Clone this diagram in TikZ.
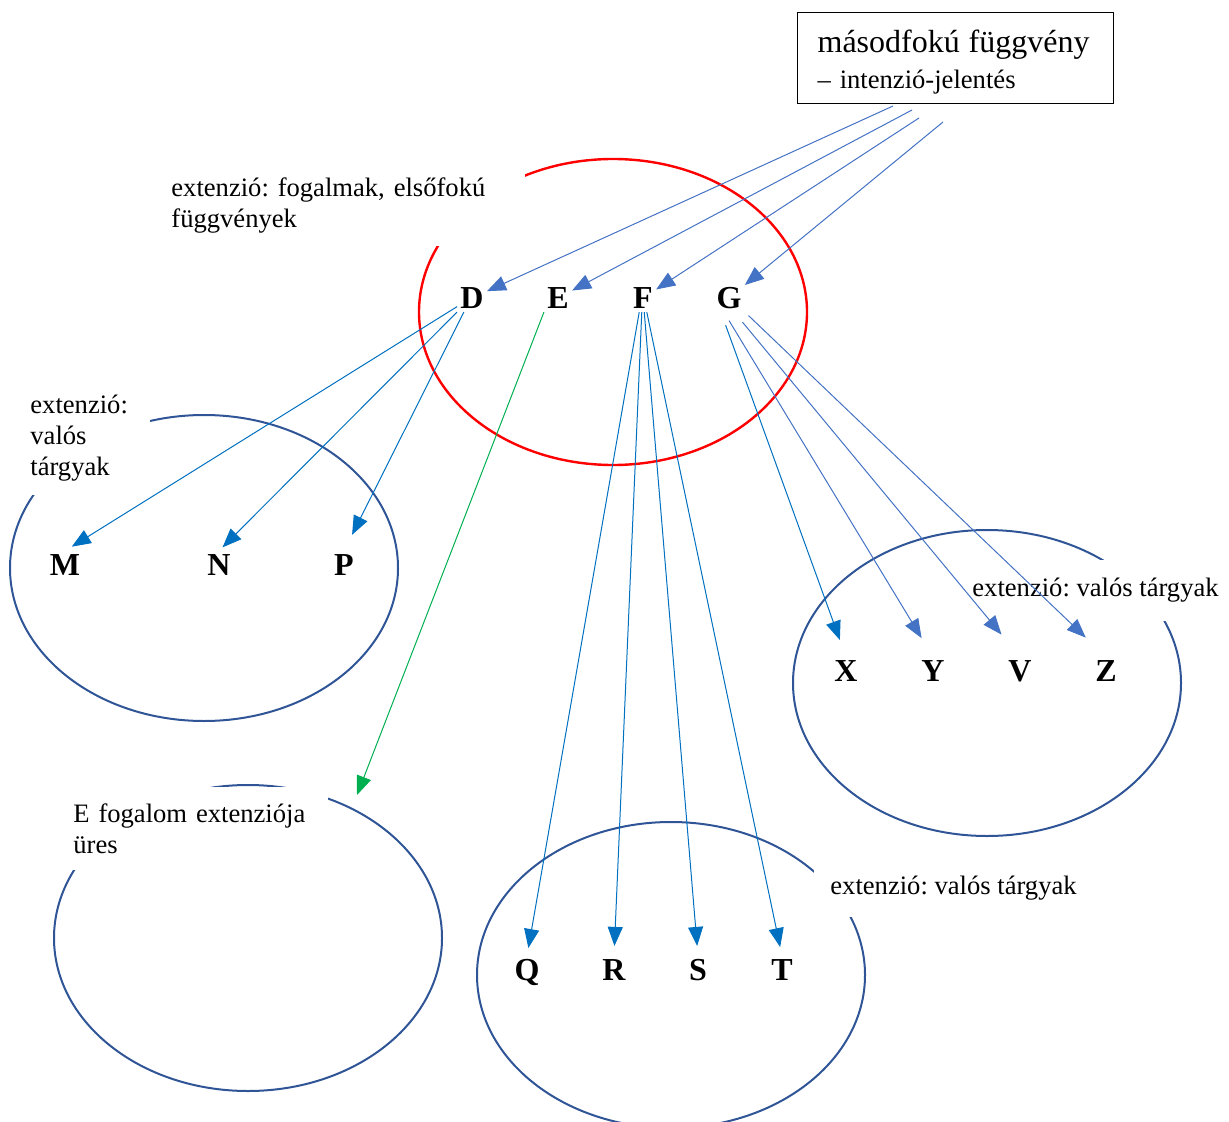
\documentclass[tikz,border=0pt]{standalone}
\usepackage{fontspec}
\setmainfont{Liberation Serif}
\frenchspacing
\usetikzlibrary{%
  arrows.meta%
}
\definecolor{vkek}{HTML}{4472C4}
\definecolor{skek}{HTML}{0070C0}
\definecolor{zold}{HTML}{00B050}
\definecolor{halmazkek}{HTML}{2F5597}
\tikzset{>={Triangle[length=9.5pt,width=7.5pt]}}
\tikzset{halmaz/.style={draw=halmazkek, line width=1pt},
  felirat/.style={fill=white, anchor=north west, align=left,
    font=\fontsize{13.3}{15.5}\selectfont},
  betu/.style={font=\fontsize{16}{18}\selectfont\bfseries, inner sep=1.5pt,
    text height=10.7pt, text depth=0pt},
  nyil/.style={->, line width=0.5pt}}

\begin{document}
\begin{tikzpicture}[x=0.5pt,y=-0.5pt]
  \useasboundingbox (0,0) rectangle (1229,1122);
  \draw[red, line width=1.2pt] (613,312) ellipse [x radius=97pt, y radius=76.5pt];
  \draw[halmaz] (204,568) ellipse [x radius=97pt, y radius=76.5pt];
  \draw[halmaz] (987,683) ellipse [x radius=97pt, y radius=76.5pt];
  \draw[halmaz] (671,975) ellipse [x radius=97pt, y radius=76.5pt];
  \draw[halmaz] (248,938) ellipse [x radius=97pt, y radius=76.5pt];

  \node[felirat, text width=171.5pt, inner xsep=5.5pt, inner ysep=6.5pt] (fogalmak)
    at (160,164) {extenzió: fogalmak, elsőfokú\\ függvények};
  \node[felirat, text width=54pt, inner xsep=6pt, inner ysep=6.5pt] (targyakMNP)
    at (18,382) {extenzió:\\ valós\\ tárgyak};
  \node[felirat, inner xsep=5pt, inner ysep=9pt] (targyakXYVZ)
    at (962,560) {extenzió: valós tárgyak};
  \node[felirat, inner xsep=8pt, inner ysep=8pt] (targyakQRST)
    at (814,860) {extenzió: valós tárgyak};
  \node[felirat, text width=121pt, inner xsep=6.5pt, inner ysep=8.2pt] (uresE)
    at (60,787) {E fogalom extenziója\\ üres};

  \node[draw, line width=0.6pt, anchor=north west, align=left, text width=138pt,
    inner xsep=10pt, inner ysep=0pt, font=\fontsize{13.3}{18}\selectfont] (fv)
    at (797,12) {\rule{0pt}{20pt}{\fontsize{16}{18}\selectfont másodfokú függvény}\\
    \rule[-7.5pt]{0pt}{0pt}– intenzió-jelentés};

  \node[betu] (D) at (472,298) {D}; \node[betu] (E) at (558,298) {E};
  \node[betu] (F) at (643,298) {F}; \node[betu] (G) at (729,298) {G};
  \node[betu] (M) at (65,565) {M}; \node[betu] (N) at (219,565) {N};
  \node[betu] (P) at (344,565) {P};
  \node[betu] (X) at (846,671) {X}; \node[betu] (Y) at (933,671) {Y};
  \node[betu] (V) at (1020,671) {V}; \node[betu] (Z) at (1106,671) {Z};
  \node[betu] (Q) at (527,970) {Q}; \node[betu] (R) at (614,970) {R};
  \node[betu] (S) at (698,970) {S}; \node[betu] (T) at (782,970) {T};

  \coordinate (kD) at (893,106); \coordinate (kE) at (912,110);
  \coordinate (kF) at (919,118); \coordinate (kG) at (943,122);
  \coordinate (uresnyil) at (357,795);

  \draw[nyil, vkek] (kD) -- (D);
  \draw[nyil, vkek] (kE) -- (E);
  \draw[nyil, vkek] (kF) -- (F);
  \draw[nyil, vkek] (kG) -- (G);
  \draw[nyil, skek, shorten >=4pt] (D.210) -- (M.north);
  \draw[nyil, skek, shorten >=2.5pt] (D.south west) -- (N.north);
  \draw[nyil, skek, shorten >=9pt] (D.240) -- (P.north);
  \draw[nyil, zold] (E.south west) -- (uresnyil);
  \draw[nyil, skek, shorten >=4pt] (F.255) -- (Q.north);
  \draw[nyil, skek, shorten >=5pt] (F.265) -- (R.north);
  \draw[nyil, skek, shorten >=5pt] (F.275) -- (S.north);
  \draw[nyil, skek, shorten >=4.5pt] (F.285) -- (T.north);
  \draw[nyil, skek, shorten <=7pt, shorten >=9pt] (G.240) -- (X.north);
  \draw[nyil, vkek, shorten <=5pt, shorten >=11pt] (G.250) -- (Y.north);
  \draw[nyil, vkek, shorten <=6.5pt, shorten >=14.5pt] (G.290) -- (V.north);
  \draw[nyil, vkek, shorten <=2.5pt, shorten >=14pt] (G.south east) -- (Z.north);
\end{tikzpicture}
\end{document}
